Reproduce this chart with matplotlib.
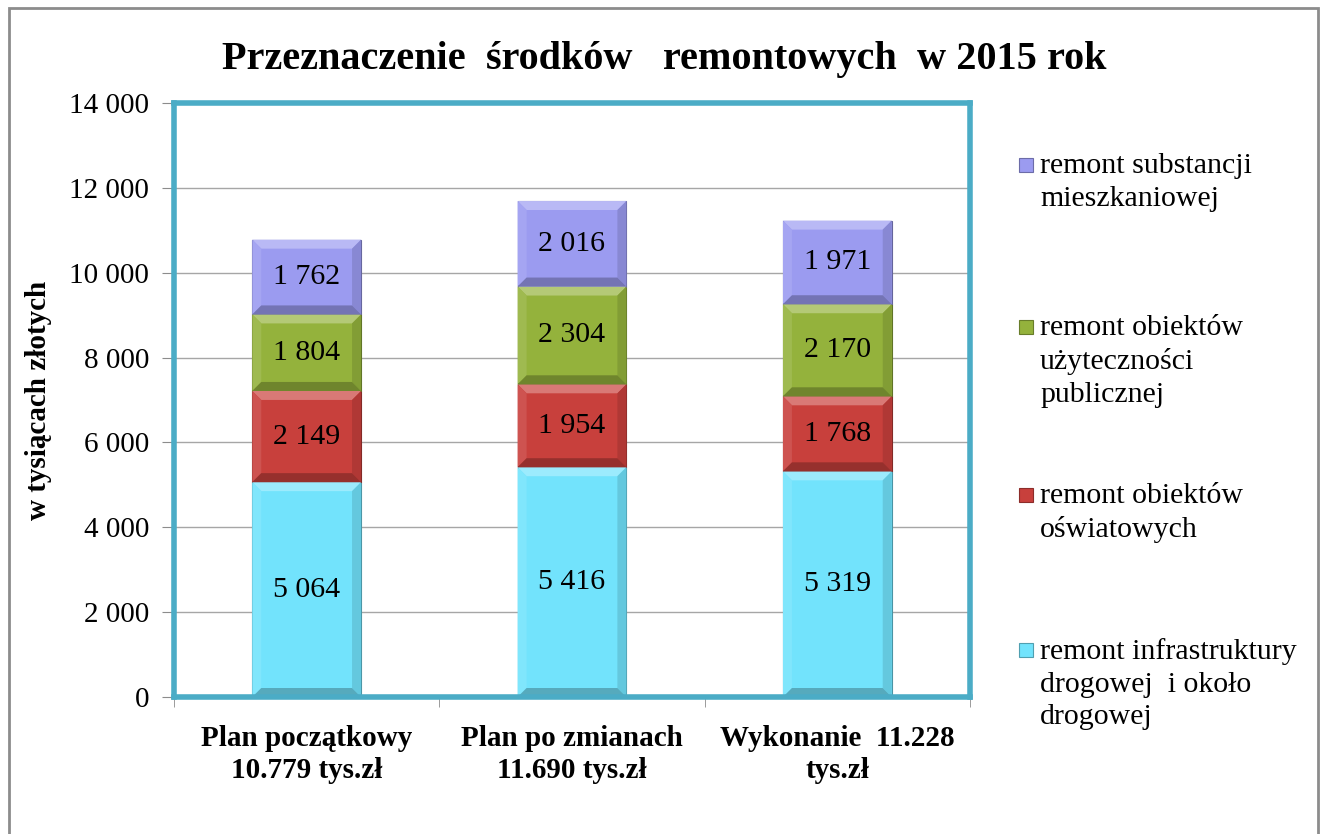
import numpy as np
import matplotlib
matplotlib.use('Agg')
import matplotlib.pyplot as plt
from matplotlib.patches import Rectangle, Polygon
from matplotlib.colors import to_rgb

# Dane
categories = ['Plan początkowy\n10.779 tys.zł', 'Plan po zmianach\n11.690 tys.zł', 'Wykonanie  11.228\ntys.zł']
series_names = ['remont infrastruktury\ndrogowej  i około\ndrogowej',
                'remont obiektów\noświatowych',
                'remont obiektów\nużyteczności\npublicznej',
                'remont substancji\nmieszkaniowej']
infrastruktura = [5064, 5416, 5319]
oswiatowe = [2149, 1954, 1768]
publiczne = [1804, 2304, 2170]
mieszkaniowe = [1762, 2016, 1971]
series = [infrastruktura, oswiatowe, publiczne, mieszkaniowe]
colors = ['#72e3fc', '#c8403c', '#94b23c', '#9b9bf0']
yticks = np.arange(0, 14001, 2000)

plt.rcParams['font.family'] = ['Liberation Serif', 'DejaVu Serif']

W, H = 1322, 834
fig = plt.figure(figsize=(W / 100, H / 100), dpi=100)
fig.patch.set_facecolor('white')

# ramka wokół wykresu
fig.add_artist(Rectangle((9 / W, -0.05), 1309 / W, 1 - 8 / H + 0.05, transform=fig.transFigure,
                         fill=False, edgecolor='#8c8c8c', linewidth=2))

ax = fig.add_axes([174 / W, 1 - 697 / H, (970 - 174) / W, (697 - 103) / H])
ax.set_xlim(-0.5, 2.5)
ax.set_ylim(0, 14000)

x = np.arange(len(categories))
width = 0.41


def shade(c, f):
    r = np.array(to_rgb(c))
    if f > 0:
        return tuple(r + (1 - r) * f)
    return tuple(r * (1 + f))


# rozmiar fazy w jednostkach danych (ok. 9 px)
bx = 9 / (970 - 174) * 3.0
by = 9 / (697 - 103) * 14000

bottom = np.zeros(3)
for vals, col in zip(series, colors):
    vals = np.array(vals, dtype=float)
    bars = ax.bar(x, vals, width, bottom=bottom, color=col, edgecolor=shade(col, -0.35),
                  linewidth=0.8, zorder=3)
    for b, v in zip(bars, vals):
        x0, y0 = b.get_x(), b.get_y()
        x1, y1 = x0 + b.get_width(), y0 + b.get_height()
        polys = [
            ([(x0, y1), (x1, y1), (x1 - bx, y1 - by), (x0 + bx, y1 - by)], 0.3),
            ([(x0, y0), (x0, y1), (x0 + bx, y1 - by), (x0 + bx, y0 + by)], 0.1),
            ([(x1, y0), (x1, y1), (x1 - bx, y1 - by), (x1 - bx, y0 + by)], -0.12),
            ([(x0, y0), (x1, y0), (x1 - bx, y0 + by), (x0 + bx, y0 + by)], -0.25),
        ]
        for pts, f in polys:
            ax.add_patch(Polygon(pts, closed=True, facecolor=shade(col, f), edgecolor='none', zorder=4))
        ax.text(x0 + b.get_width() / 2, y0 + v / 2, f'{int(v):,}'.replace(',', ' '),
                ha='center', va='center', fontsize=21.5, zorder=5)
    bottom += vals

ax.set_yticks(yticks)
ax.set_yticklabels([f'{v:,}'.replace(',', ' ') for v in yticks], fontsize=21)
ax.yaxis.grid(True, color='#a6a6a6', linewidth=1, zorder=0)
ax.set_axisbelow(True)
ax.tick_params(axis='y', length=9, color='#8c8c8c', pad=9)

ax.set_xticks(x)
ax.set_xticklabels(categories, fontsize=21, fontweight='bold', linespacing=1.25)
ax.set_xticks([-0.5, 0.5, 1.5, 2.5], minor=True)
ax.tick_params(axis='x', which='major', length=0, pad=20)
ax.tick_params(axis='x', which='minor', length=7, color='#8c8c8c')

for s in ax.spines.values():
    s.set_edgecolor('#4bacc6')
    s.set_linewidth(4)
    s.set_zorder(6)

ax.set_ylabel('w tysiącach złotych', fontsize=21, fontweight='bold', labelpad=12)

fig.text(0.5 * (220 + 1108) / W, 1 - 60 / H,
         'Przeznaczenie  środków   remontowych  w 2015 rok',
         ha='center', va='center', fontsize=29, fontweight='bold')

# legenda (kolejność odwrotna)
leg_y = [165, 327, 495, 650]
for name, col, yy in zip(series_names[::-1], colors[::-1], leg_y):
    fig.add_artist(Rectangle((1019 / W, 1 - (yy + 7) / H), 14 / W, 14 / H, transform=fig.transFigure,
                             facecolor=col, edgecolor=shade(col, -0.3), linewidth=0.8))
    fig.text(1040 / W, 1 - (yy - 12) / H, name, ha='left', va='top', fontsize=21.5, linespacing=1.33)

fig.savefig('out.png', dpi=100)
